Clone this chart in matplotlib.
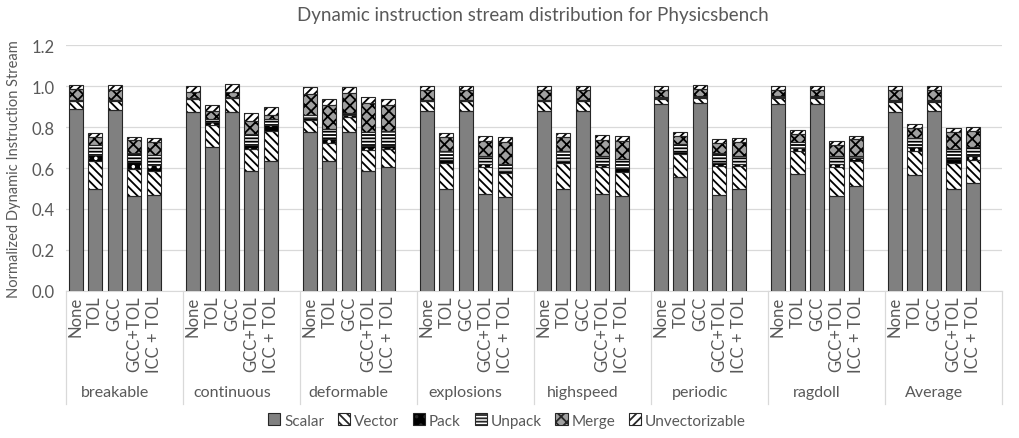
import matplotlib
matplotlib.use("Agg")
import matplotlib.pyplot as plt
import matplotlib.transforms as mtransforms
from matplotlib.patches import Patch
import numpy as np

plt.rcParams['font.family'] = ['Lato', 'DejaVu Sans']
plt.rcParams['hatch.linewidth'] = 1.3

groups = ['breakable', 'continuous', 'deformable', 'explosions',
          'highspeed', 'periodic', 'ragdoll', 'Average']
configs = ['None', 'TOL', 'GCC', 'GCC+TOL', 'ICC + TOL']
parts = ['Scalar', 'Vector', 'Pack', 'Unpack', 'Merge', 'Unvectorizable']

# one row per group, one value per config (None, TOL, GCC, GCC+TOL, ICC+TOL)
scalar = [
    [0.890, 0.500, 0.885, 0.465, 0.467],
    [0.875, 0.705, 0.875, 0.585, 0.635],
    [0.777, 0.636, 0.777, 0.584, 0.605],
    [0.880, 0.498, 0.880, 0.475, 0.457],
    [0.880, 0.497, 0.880, 0.474, 0.462],
    [0.912, 0.555, 0.918, 0.470, 0.498],
    [0.912, 0.571, 0.912, 0.465, 0.514],
    [0.875, 0.565, 0.877, 0.500, 0.525],
]
vector = [
    [0.036, 0.132, 0.040, 0.132, 0.120],
    [0.060, 0.105, 0.065, 0.106, 0.148],
    [0.057, 0.087, 0.070, 0.103, 0.086],
    [0.045, 0.127, 0.045, 0.130, 0.119],
    [0.045, 0.127, 0.045, 0.131, 0.120],
    [0.025, 0.114, 0.025, 0.139, 0.111],
    [0.030, 0.114, 0.030, 0.139, 0.122],
    [0.045, 0.120, 0.045, 0.125, 0.115],
]
pack = [
    [0.003, 0.030, 0.005, 0.032, 0.030],
    [0.003, 0.015, 0.003, 0.020, 0.025],
    [0.012, 0.020, 0.010, 0.020, 0.015],
    [0.003, 0.012, 0.003, 0.016, 0.011],
    [0.003, 0.012, 0.003, 0.012, 0.020],
    [0.005, 0.011, 0.005, 0.016, 0.011],
    [0.005, 0.012, 0.005, 0.016, 0.015],
    [0.005, 0.020, 0.005, 0.020, 0.020],
]
unpack = [
    [0.003, 0.050, 0.003, 0.042, 0.045],
    [0.002, 0.015, 0.002, 0.057, 0.030],
    [0.012, 0.049, 0.010, 0.070, 0.073],
    [0.002, 0.045, 0.002, 0.040, 0.033],
    [0.002, 0.045, 0.002, 0.040, 0.040],
    [0.005, 0.038, 0.005, 0.049, 0.041],
    [0.005, 0.030, 0.005, 0.041, 0.010],
    [0.005, 0.040, 0.005, 0.050, 0.045],
]
merge = [
    [0.054, 0.040, 0.050, 0.065, 0.065],
    [0.030, 0.036, 0.025, 0.060, 0.020],
    [0.105, 0.114, 0.100, 0.139, 0.130],
    [0.050, 0.070, 0.050, 0.073, 0.106],
    [0.050, 0.068, 0.050, 0.080, 0.090],
    [0.035, 0.040, 0.035, 0.049, 0.065],
    [0.030, 0.040, 0.030, 0.049, 0.082],
    [0.050, 0.050, 0.048, 0.080, 0.075],
]
unvec = [
    [0.017, 0.020, 0.020, 0.017, 0.018],
    [0.030, 0.033, 0.040, 0.041, 0.040],
    [0.033, 0.033, 0.030, 0.033, 0.029],
    [0.020, 0.020, 0.020, 0.020, 0.027],
    [0.020, 0.021, 0.020, 0.023, 0.023],
    [0.018, 0.017, 0.017, 0.018, 0.020],
    [0.018, 0.017, 0.018, 0.020, 0.012],
    [0.020, 0.020, 0.020, 0.020, 0.020],
]

series = [scalar, vector, pack, unpack, merge, unvec]
# face colour, hatch colour, hatch
styles = [
    ('#808080', '#808080', None),
    ('white', 'black', '\\\\\\\\'),
    ('black', 'white', '..'),
    ('white', 'black', '-----'),
    ('#a0a0a0', 'black', 'xxx'),
    ('white', 'black', '////'),
]

txt = '#595959'
fig = plt.figure(figsize=(10.2, 4.39), dpi=100)
ax = fig.add_axes([0.0647, 0.335, 0.9177, 0.56])

slots = len(configs) + 1
width = 0.74
for g in range(len(groups)):
    xs = g * slots + np.arange(len(configs))
    bottom = np.zeros(len(configs))
    for vals, (fc, hc, hatch) in zip(series, styles):
        v = np.array(vals[g])
        ax.bar(xs, v, width, bottom=bottom, color=fc, edgecolor=hc,
               hatch=hatch, linewidth=0, zorder=2)
        ax.bar(xs, v, width, bottom=bottom, fill=False, edgecolor='#262626',
               linewidth=0.8, zorder=3)
        bottom += v

ax.set_xlim(-0.5, len(groups) * slots - 0.5)
ax.set_ylim(0, 1.2)
ax.set_yticks(np.arange(0, 1.21, 0.2))
ax.set_yticklabels(['%.1f' % t for t in np.arange(0, 1.21, 0.2)],
                   fontsize=12, color=txt)
ax.tick_params(axis='y', length=0, pad=8)
ax.set_xticks([])
ax.grid(axis='y', color='#d9d9d9', linewidth=0.9, zorder=0)
ax.set_axisbelow(True)
for s in ['left', 'right', 'top']:
    ax.spines[s].set_visible(False)
ax.spines['bottom'].set_color('#d9d9d9')

trans = mtransforms.blended_transform_factory(ax.transData, ax.transAxes)
for g, name in enumerate(groups):
    for i, c in enumerate(configs):
        ax.text(g * slots + i, -0.02, c, rotation=90, ha='center', va='top',
                fontsize=12, color=txt, transform=trans)
    ax.text(g * slots + 2, -0.41, name, ha='center', va='center',
            fontsize=11.5, color=txt, transform=trans)
for g in range(len(groups) + 1):
    ax.plot([g * slots - 0.5] * 2, [0, -0.46], color='#d9d9d9',
            linewidth=0.9, transform=trans, clip_on=False)

ax.set_ylabel('Normalized Dynamic Instruction Stream', fontsize=10.5,
              color=txt, labelpad=8)
fig.text(0.522, 0.965, 'Dynamic instruction stream distribution for Physicsbench',
         ha='center', va='center', fontsize=13.5, color=txt)

handles = []
for p, (fc, hc, hatch) in zip(parts, styles):
    handles.append(Patch(facecolor=fc, edgecolor='#262626', hatch=hatch,
                         linewidth=0.8, label=p))
fig.legend(handles=handles, loc='center', bbox_to_anchor=(0.497, 0.04),
           ncol=6, frameon=False, fontsize=11, handlelength=0.8,
           handleheight=0.8, handletextpad=0.25, columnspacing=0.9,
           labelcolor=txt)

fig.savefig('out.png', dpi=100)
